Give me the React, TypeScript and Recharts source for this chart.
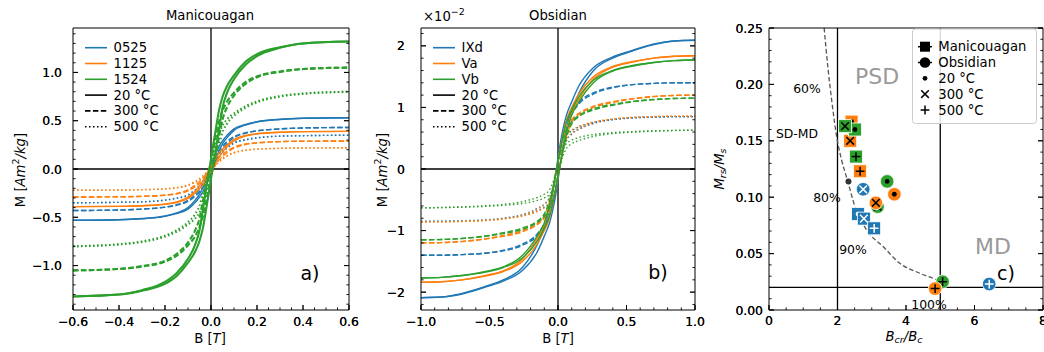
import React from "react";
import { ComposedChart, LineChart, Line, Scatter, XAxis, YAxis, ReferenceLine } from "recharts";

const FONT = "'DejaVu Sans', Verdana, sans-serif";
const TICK_FS = 12.4;
const LABEL_FS = 13.2;
const LEGEND_FS = 13.2;
const BLUE = "#1f77b4";
const ORANGE = "#ff7f0e";
const GREEN = "#2ca02c";
const COLORS = [BLUE, ORANGE, GREEN];

const TEMPS = ["20 °C", "300 °C", "500 °C"];
const DASHES: (string | undefined)[] = [undefined, "5.5 2.4", "1.5 2.5"];

// ---------- panel a: Manicouagan (upper branch of each loop, B in T, M in Am2/kg)
const MANI_SAMPLES = ["0525", "1125", "1524"];
const MANI_B = [-0.6, -0.4, -0.3, -0.2, -0.15, -0.1, -0.07, -0.05, -0.035, -0.02, -0.01, 0, 0.01, 0.02, 0.035, 0.05, 0.07, 0.1, 0.15, 0.2, 0.3, 0.4, 0.6];
const M0525_20 = [-0.53, -0.525, -0.513, -0.487, -0.455, -0.4, -0.325, -0.26, -0.19, -0.09, -0.026, 0.04, 0.1, 0.16, 0.235, 0.29, 0.35, 0.415, 0.462, 0.49, 0.515, 0.525, 0.53];
const M0525_300 = [-0.43, -0.425, -0.415, -0.395, -0.37, -0.325, -0.265, -0.21, -0.155, -0.075, -0.02, 0.03, 0.08, 0.13, 0.19, 0.235, 0.285, 0.335, 0.375, 0.395, 0.415, 0.425, 0.43];
const M0525_500 = [-0.35, -0.345, -0.34, -0.32, -0.3, -0.265, -0.215, -0.17, -0.125, -0.06, -0.017, 0.026, 0.066, 0.105, 0.155, 0.19, 0.23, 0.275, 0.305, 0.325, 0.34, 0.345, 0.35];
const M1125_20 = [-0.39, -0.387, -0.38, -0.363, -0.34, -0.29, -0.23, -0.175, -0.125, -0.06, -0.017, 0.026, 0.068, 0.11, 0.165, 0.205, 0.25, 0.305, 0.348, 0.366, 0.38, 0.387, 0.39];
const M1125_300 = [-0.29, -0.288, -0.283, -0.27, -0.253, -0.215, -0.17, -0.13, -0.093, -0.045, -0.013, 0.019, 0.05, 0.082, 0.123, 0.152, 0.186, 0.227, 0.259, 0.272, 0.283, 0.288, 0.29];
const M1125_500 = [-0.22, -0.218, -0.214, -0.205, -0.192, -0.164, -0.13, -0.099, -0.07, -0.034, -0.01, 0.015, 0.038, 0.062, 0.093, 0.116, 0.141, 0.172, 0.196, 0.206, 0.214, 0.218, 0.22];
const M1524_20 = [-1.32, -1.3, -1.255, -1.17, -1.08, -0.93, -0.79, -0.635, -0.41, -0.19, -0.045, 0.1, 0.255, 0.4, 0.61, 0.745, 0.86, 0.97, 1.11, 1.19, 1.26, 1.3, 1.32];
const M1524_300 = [-1.05, -1.035, -1.005, -0.95, -0.88, -0.76, -0.64, -0.51, -0.33, -0.15, -0.035, 0.08, 0.2, 0.32, 0.49, 0.6, 0.7, 0.79, 0.9, 0.96, 1.01, 1.035, 1.05];
const M1524_500 = [-0.8, -0.78, -0.75, -0.69, -0.635, -0.55, -0.47, -0.38, -0.25, -0.115, -0.027, 0.06, 0.155, 0.24, 0.37, 0.45, 0.515, 0.575, 0.65, 0.7, 0.755, 0.78, 0.8];

// ---------- panel b: Obsidian (x 1e-2 Am2/kg)
const OBS_SAMPLES = ["IXd", "Va", "Vb"];
const OBS_B = [-1, -0.85, -0.7, -0.52, -0.4, -0.26, -0.15, -0.1, -0.06, -0.03, -0.01, 0, 0.01, 0.03, 0.06, 0.1, 0.15, 0.26, 0.4, 0.52, 0.7, 0.85, 1];
const IXD_20 = [-2.09, -2.08, -2.02, -1.9, -1.8, -1.6, -1.22, -0.95, -0.64, -0.27, 0.03, 0.18, 0.33, 0.58, 0.86, 1.09, 1.34, 1.65, 1.82, 1.91, 2.03, 2.08, 2.09];
const IXD_300 = [-1.4, -1.4, -1.39, -1.365, -1.32, -1.22, -1.05, -0.88, -0.6, -0.26, 0, 0.13, 0.26, 0.51, 0.75, 0.93, 1.08, 1.24, 1.33, 1.365, 1.39, 1.4, 1.4];
const IXD_500 = [-0.85, -0.848, -0.84, -0.825, -0.8, -0.74, -0.64, -0.57, -0.45, -0.23, 0, 0.11, 0.22, 0.4, 0.54, 0.62, 0.68, 0.755, 0.805, 0.83, 0.845, 0.85, 0.85];
const VA_20 = [-1.84, -1.83, -1.8, -1.725, -1.655, -1.46, -1.12, -0.91, -0.58, -0.25, 0, 0.13, 0.25, 0.48, 0.78, 1.0, 1.21, 1.5, 1.665, 1.735, 1.8, 1.83, 1.84];
const VA_300 = [-1.2, -1.195, -1.175, -1.13, -1.08, -1.0, -0.88, -0.76, -0.52, -0.24, 0, 0.12, 0.24, 0.46, 0.66, 0.8, 0.9, 1.02, 1.095, 1.135, 1.18, 1.195, 1.2];
const VA_500 = [-0.86, -0.858, -0.85, -0.832, -0.808, -0.75, -0.65, -0.58, -0.46, -0.24, 0, 0.115, 0.23, 0.41, 0.55, 0.63, 0.69, 0.765, 0.812, 0.837, 0.852, 0.858, 0.86];
const VB_20 = [-1.77, -1.76, -1.73, -1.66, -1.59, -1.405, -1.08, -0.875, -0.56, -0.24, 0, 0.125, 0.24, 0.46, 0.75, 0.96, 1.165, 1.445, 1.6, 1.67, 1.73, 1.76, 1.77];
const VB_300 = [-1.15, -1.145, -1.125, -1.085, -1.035, -0.96, -0.845, -0.73, -0.5, -0.23, 0, 0.115, 0.23, 0.44, 0.63, 0.77, 0.865, 0.98, 1.05, 1.09, 1.13, 1.145, 1.15];
const VB_500 = [-0.63, -0.625, -0.615, -0.595, -0.575, -0.53, -0.46, -0.41, -0.33, -0.17, 0, 0.09, 0.17, 0.31, 0.41, 0.47, 0.51, 0.56, 0.59, 0.605, 0.62, 0.627, 0.63];

// ---------- panel c: Day plot
const MANI_BCR_BC = [2.6, 2.77, 3.07, 2.41, 2.37, 2.66, 2.51, 2.22, 2.54];
const MANI_MRS_MS = [0.085, 0.081, 0.0724, 0.167, 0.15, 0.123, 0.16, 0.163, 0.136];
const MANI_PT_SAMPLE = [0, 0, 0, 1, 1, 1, 2, 2, 2];
const MANI_PT_TEMP = [0, 1, 2, 0, 1, 2, 0, 1, 2];
const OBS_BCR_BC = [2.75, 6.43, 3.45, 3.17, 5.07, 3.66, 3.12, 4.85];
const OBS_MRS_MS = [0.107, 0.023, 0.114, 0.0916, 0.0251, 0.1026, 0.095, 0.019];
const OBS_PT_SAMPLE = [0, 0, 2, 2, 2, 1, 1, 1];
const OBS_PT_TEMP = [1, 2, 0, 1, 2, 0, 1, 2];
const MIX_X = [1.61, 1.72, 1.83, 1.99, 2.12, 2.3, 2.51, 2.85, 3.34, 3.82, 4.41, 4.9, 5.19];
const MIX_Y = [0.25, 0.215, 0.186, 0.151, 0.133, 0.114, 0.0916, 0.071, 0.056, 0.0414, 0.0325, 0.0266, 0.022];
const MIX_DOT_X = [2.32];
const MIX_DOT_Y = [0.114];
const SD_LIMIT_BCR = 2;
const MD_LIMIT_BCR = 5;
const MD_LIMIT_MRS = 0.02;

// ---------- ticks
const A_X_MAJOR = [-0.6, -0.4, -0.2, 0, 0.2, 0.4, 0.6];
const A_Y_MAJOR = [-1, -0.5, 0, 0.5, 1];
const B_X_MAJOR = [-1, -0.5, 0, 0.5, 1];
const B_Y_MAJOR = [-2, -1, 0, 1, 2];
const C_X_MAJOR = [0, 2, 4, 6, 8];
const C_Y_MAJOR = [0, 0.05, 0.1, 0.15, 0.2, 0.25];

const steps = (a: number, b: number, s: number) =>
  Array.from({ length: Math.round((b - a) / s) + 1 }, (_, i) => +(a + i * s).toFixed(6));

const minus = (s: string) => s.replace("-", "\u2212");
const fmt1 = (v: number) => minus(v.toFixed(1));
const fmt0 = (v: number) => minus(v.toFixed(0));
const fmt2 = (v: number) => minus(v.toFixed(2));

type Side = "bottom" | "left" | "top" | "right";

function makeTick(side: Side, majors: number[], fmt: (v: number) => string, gap: number) {
  return (props: any) => {
    const { x, y, payload } = props;
    const v = payload.value;
    const major = majors.some((m) => Math.abs(m - v) < 1e-9);
    const len = major ? 5 : 2.6;
    let l;
    if (side === "bottom") l = { x1: x, y1: y, x2: x, y2: y - len };
    else if (side === "top") l = { x1: x, y1: y, x2: x, y2: y + len };
    else if (side === "left") l = { x1: x, y1: y, x2: x + len, y2: y };
    else l = { x1: x, y1: y, x2: x - len, y2: y };
    return (
      <g>
        <line {...l} stroke="#000" strokeWidth={0.9} />
        {major && side === "bottom" && (
          <text x={x} y={y + gap} textAnchor="middle" dominantBaseline="central" fontSize={TICK_FS} fontFamily={FONT} fill="#000">
            {fmt(v)}
          </text>
        )}
        {major && side === "left" && (
          <text x={x - gap} y={y} textAnchor="end" dominantBaseline="central" fontSize={TICK_FS} fontFamily={FONT} fill="#000">
            {fmt(v)}
          </text>
        )}
      </g>
    );
  };
}

const AXIS_LINE = { stroke: "#000", strokeWidth: 1 };

function frameAxes(
  xDom: number[], yDom: number[], xMaj: number[], yMaj: number[], xMin: number[], yMin: number[],
  xFmt: (v: number) => string, yFmt: (v: number) => string, xGap: number, yGap: number, xKey: string, yKey: string
) {
  const xt = [...xMin, ...xMaj].sort((a, b) => a - b);
  const yt = [...yMin, ...yMaj].sort((a, b) => a - b);
  const common = { tickSize: 0, tickMargin: 0, interval: 0 as const, allowDataOverflow: true, axisLine: AXIS_LINE, tickLine: false, type: "number" as const };
  return [
    <XAxis key="xb" xAxisId="bottom" orientation="bottom" dataKey={xKey} domain={xDom} ticks={xt} height={1} tick={makeTick("bottom", xMaj, xFmt, xGap)} {...common} />,
    <XAxis key="xt" xAxisId="top" orientation="top" domain={xDom} ticks={xt} height={1} tick={makeTick("top", xMaj, xFmt, 0)} {...common} />,
    <YAxis key="yl" yAxisId="left" orientation="left" dataKey={yKey} domain={yDom} ticks={yt} width={1} tick={makeTick("left", yMaj, yFmt, yGap)} {...common} />,
    <YAxis key="yr" yAxisId="right" orientation="right" domain={yDom} ticks={yt} width={1} tick={makeTick("right", yMaj, yFmt, 0)} {...common} />,
  ];
}

function loopBranches(grid: number[], upper: number[]) {
  const n = grid.length;
  return {
    up: grid.map((b, i) => ({ b, m: upper[i] })),
    down: grid.map((b, i) => ({ b, m: -upper[n - 1 - i] })),
  };
}

const MANI_LOOPS = [
  { s: 0, t: 0, m: M0525_20 }, { s: 0, t: 1, m: M0525_300 }, { s: 0, t: 2, m: M0525_500 },
  { s: 1, t: 0, m: M1125_20 }, { s: 1, t: 1, m: M1125_300 }, { s: 1, t: 2, m: M1125_500 },
  { s: 2, t: 0, m: M1524_20 }, { s: 2, t: 1, m: M1524_300 }, { s: 2, t: 2, m: M1524_500 },
];
const OBS_LOOPS = [
  { s: 0, t: 0, m: IXD_20 }, { s: 0, t: 1, m: IXD_300 }, { s: 0, t: 2, m: IXD_500 },
  { s: 1, t: 0, m: VA_20 }, { s: 1, t: 1, m: VA_300 }, { s: 1, t: 2, m: VA_500 },
  { s: 2, t: 0, m: VB_20 }, { s: 2, t: 1, m: VB_300 }, { s: 2, t: 2, m: VB_500 },
];

function loopLines(grid: number[], loops: { s: number; t: number; m: number[] }[], width: (s: number) => number) {
  return loops.flatMap((lp, k) => {
    const br = loopBranches(grid, lp.m);
    const common = {
      xAxisId: "bottom", yAxisId: "left", dataKey: "m", type: "monotone" as const, dot: false, activeDot: false,
      isAnimationActive: false, stroke: COLORS[lp.s], strokeWidth: width(lp.s), strokeDasharray: DASHES[lp.t],
    };
    return [<Line key={k + "u"} data={br.up} {...common} />, <Line key={k + "d"} data={br.down} {...common} />];
  });
}

const maniPts = MANI_BCR_BC.map((x, i) => ({ x, y: MANI_MRS_MS[i], s: MANI_PT_SAMPLE[i], t: MANI_PT_TEMP[i] }));
const obsPts = OBS_BCR_BC.map((x, i) => ({ x, y: OBS_MRS_MS[i], s: OBS_PT_SAMPLE[i], t: OBS_PT_TEMP[i] }));
const mixCurve = MIX_X.map((x, i) => ({ x, y: MIX_Y[i] }));
const mixDots = MIX_DOT_X.map((x, i) => ({ x, y: MIX_DOT_Y[i] }));

function innerMark(cx: number, cy: number, t: number, c: string, r: number) {
  if (t === 0) return <circle cx={cx} cy={cy} r={2.4} fill={c} />;
  if (t === 1)
    return <path d={`M${cx - r},${cy - r}L${cx + r},${cy + r}M${cx - r},${cy + r}L${cx + r},${cy - r}`} stroke={c} strokeWidth={1.5} fill="none" />;
  return <path d={`M${cx - r - 0.6},${cy}H${cx + r + 0.6}M${cx},${cy - r - 0.6}V${cy + r + 0.6}`} stroke={c} strokeWidth={1.5} fill="none" />;
}

function PointShape(props: any) {
  const { cx, cy, payload, kind } = props;
  const color = COLORS[payload.s];
  const ink = payload.s === 0 ? "#fff" : "#000";
  return (
    <g>
      {kind === "square" ? (
        <rect x={cx - 6.5} y={cy - 6.5} width={13} height={13} fill={color} stroke="#fff" strokeWidth={0.8} />
      ) : (
        <circle cx={cx} cy={cy} r={6.8} fill={color} stroke="#fff" strokeWidth={0.8} />
      )}
      {innerMark(cx, cy, payload.t, ink, 3.8)}
    </g>
  );
}

function LoopLegend({ x0, names }: { x0: number; names: string[] }) {
  const rows = [
    ...names.map((n, i) => ({ label: n, color: COLORS[i], dash: undefined as string | undefined })),
    ...TEMPS.map((t, i) => ({ label: t, color: "#000", dash: DASHES[i] })),
  ];
  return (
    <g>
      {rows.map((r, i) => {
        const y = 47.7 + i * 15.8;
        return (
          <g key={i}>
            <line x1={x0} x2={x0 + 22} y1={y} y2={y} stroke={r.color} strokeWidth={1.6} strokeDasharray={r.dash} />
            <text x={x0 + 28.5} y={y} dominantBaseline="central" fontSize={LEGEND_FS}>{r.label}</text>
          </g>
        );
      })}
    </g>
  );
}

function DayLegend() {
  const x0 = 925;
  const ys = [46.7, 62.5, 78.3, 94.1, 110];
  const labels = ["Manicouagan", "Obsidian", ...TEMPS];
  return (
    <g>
      <rect x={912.5} y={29} width={124} height={94.5} rx={3} fill="#fff" fillOpacity={0.85} stroke="#ccc" strokeWidth={1} />
      <line x1={x0 - 7} x2={x0 + 7} y1={ys[0]} y2={ys[0]} stroke="#000" strokeWidth={1.5} />
      <rect x={x0 - 5} y={ys[0] - 5} width={10} height={10} fill="#000" />
      <line x1={x0 - 7} x2={x0 + 7} y1={ys[1]} y2={ys[1]} stroke="#000" strokeWidth={1.5} />
      <circle cx={x0} cy={ys[1]} r={5.3} fill="#000" />
      {innerMark(x0, ys[2], 0, "#000", 3.8)}
      {innerMark(x0, ys[3], 1, "#000", 3.8)}
      {innerMark(x0, ys[4], 2, "#000", 3.8)}
      {labels.map((l, i) => (
        <text key={l} x={938.3} y={ys[i]} dominantBaseline="central" fontSize={LEGEND_FS}>{l}</text>
      ))}
    </g>
  );
}

export default function App() {
  const box = (left: number, width: number): React.CSSProperties => ({ position: "absolute", left, top: 0, width, height: 352 });
  return (
    <div style={{ position: "absolute", left: 0, top: 0, width: 1044, height: 352, background: "#fff", fontFamily: FONT, overflow: "hidden" }}>
      {/* a) Manicouagan */}
      <div style={box(0, 360)}>
        <LineChart width={360} height={352} margin={{ top: 27, right: 10, bottom: 41, left: 72 }}>
          {frameAxes([-0.6, 0.6], [-1.46, 1.46], A_X_MAJOR, A_Y_MAJOR, steps(-0.6, 0.6, 0.05), steps(-1.4, 1.4, 0.1), fmt1, fmt1, 11.7, 11, "b", "m")}
          <ReferenceLine xAxisId="bottom" yAxisId="left" x={0} stroke="#000" strokeWidth={1.3} />
          <ReferenceLine xAxisId="bottom" yAxisId="left" y={0} stroke="#000" strokeWidth={1.3} />
          {loopLines(MANI_B, MANI_LOOPS, (s) => (s === 2 ? 2.1 : 1.4))}
        </LineChart>
      </div>
      {/* b) Obsidian */}
      <div style={box(360, 350)}>
        <LineChart width={350} height={352} margin={{ top: 27, right: 14, bottom: 41, left: 60 }}>
          {frameAxes([-1, 1], [-2.29, 2.29], B_X_MAJOR, B_Y_MAJOR, steps(-1, 1, 0.1), steps(-2.2, 2.2, 0.2), fmt1, fmt0, 11.7, 16, "b", "m")}
          <ReferenceLine xAxisId="bottom" yAxisId="left" x={0} stroke="#000" strokeWidth={1.3} />
          <ReferenceLine xAxisId="bottom" yAxisId="left" y={0} stroke="#000" strokeWidth={1.3} />
          {loopLines(OBS_B, OBS_LOOPS, () => 1.4)}
        </LineChart>
      </div>
      {/* c) Day plot */}
      <div style={box(710, 334)}>
        <ComposedChart width={334} height={352} margin={{ top: 27, right: 0, bottom: 41, left: 58 }}>
          {frameAxes([0, 8], [0, 0.25], C_X_MAJOR, C_Y_MAJOR, steps(0, 8, 0.5), steps(0, 0.25, 0.01), fmt0, fmt2, 10, 6, "x", "y")}
          <ReferenceLine xAxisId="bottom" yAxisId="left" x={SD_LIMIT_BCR} stroke="#000" strokeWidth={1.3} />
          <ReferenceLine xAxisId="bottom" yAxisId="left" x={MD_LIMIT_BCR} stroke="#000" strokeWidth={1.3} />
          <ReferenceLine xAxisId="bottom" yAxisId="left" y={MD_LIMIT_MRS} stroke="#000" strokeWidth={1.3} />
          <Line xAxisId="bottom" yAxisId="left" data={mixCurve} dataKey="y" type="monotone" stroke="#555" strokeWidth={1.3} strokeDasharray="4.5 2.5" dot={false} activeDot={false} isAnimationActive={false} />
          <Scatter xAxisId="bottom" yAxisId="left" data={mixDots} isAnimationActive={false} shape={(p: any) => <circle cx={p.cx} cy={p.cy} r={3} fill="#333" />} />
          <Scatter xAxisId="bottom" yAxisId="left" data={maniPts} isAnimationActive={false} shape={(p: any) => <PointShape {...p} kind="square" />} />
          <Scatter xAxisId="bottom" yAxisId="left" data={obsPts} isAnimationActive={false} shape={(p: any) => <PointShape {...p} kind="circle" />} />
        </ComposedChart>
      </div>

      {/* text overlay */}
      <svg width={1044} height={352} style={{ position: "absolute", left: 0, top: 0, pointerEvents: "none" }} fontFamily={FONT} fill="#000">
        <text x={210} y={15} textAnchor="middle" dominantBaseline="central" fontSize={LABEL_FS}>Manicouagan</text>
        <text x={558} y={15} textAnchor="middle" dominantBaseline="central" fontSize={LABEL_FS}>Obsidian</text>
        <text x={423} y={16} dominantBaseline="central" fontSize={LABEL_FS}>
          ×10<tspan dy={-5} fontSize={9.5}>−2</tspan>
        </text>

        <text x={210} y={338} textAnchor="middle" dominantBaseline="central" fontSize={LABEL_FS}>
          B [<tspan fontStyle="italic">T</tspan>]
        </text>
        <text x={558} y={338} textAnchor="middle" dominantBaseline="central" fontSize={LABEL_FS}>
          B [<tspan fontStyle="italic">T</tspan>]
        </text>
        {[20, 382].map((x) => (
          <text key={x} transform={`translate(${x},170) rotate(-90)`} textAnchor="middle" dominantBaseline="central" fontSize={LABEL_FS}>
            M [<tspan fontStyle="italic">Am</tspan>
            <tspan dy={-5} fontSize={9.5}>2</tspan>
            <tspan dy={5} fontStyle="italic">/kg</tspan>]
          </text>
        ))}
        <text transform="translate(719,169) rotate(-90)" textAnchor="middle" dominantBaseline="central" fontSize={LABEL_FS} fontStyle="italic">
          M<tspan dy={3} fontSize={9.5}>rs</tspan>
          <tspan dy={-3}>/M</tspan>
          <tspan dy={3} fontSize={9.5}>s</tspan>
        </text>
        <text x={904} y={336} textAnchor="middle" dominantBaseline="central" fontSize={LABEL_FS} fontStyle="italic">
          B<tspan dy={3} fontSize={9.5}>cr</tspan>
          <tspan dy={-3}>/B</tspan>
          <tspan dy={3} fontSize={9.5}>c</tspan>
        </text>

        <text x={310} y={273} textAnchor="middle" dominantBaseline="central" fontSize={19}>a)</text>
        <text x={658} y={272} textAnchor="middle" dominantBaseline="central" fontSize={19}>b)</text>
        <text x={1006} y={273} textAnchor="middle" dominantBaseline="central" fontSize={19}>c)</text>

        <text x={877} y={76} textAnchor="middle" dominantBaseline="central" fontSize={22} fill="#999">PSD</text>
        <text x={993} y={246} textAnchor="middle" dominantBaseline="central" fontSize={22} fill="#999">MD</text>
        <text x={807} y={88} textAnchor="middle" dominantBaseline="central" fontSize={TICK_FS}>60%</text>
        <text x={797} y={133} textAnchor="middle" dominantBaseline="central" fontSize={TICK_FS}>SD-MD</text>
        <text x={827} y={197} textAnchor="middle" dominantBaseline="central" fontSize={TICK_FS}>80%</text>
        <text x={853} y={249} textAnchor="middle" dominantBaseline="central" fontSize={TICK_FS}>90%</text>
        <text x={929} y={304} textAnchor="middle" dominantBaseline="central" fontSize={TICK_FS}>100%</text>

        <LoopLegend x0={85} names={MANI_SAMPLES} />
        <LoopLegend x0={433} names={OBS_SAMPLES} />
        <DayLegend />
      </svg>
    </div>
  );
}
